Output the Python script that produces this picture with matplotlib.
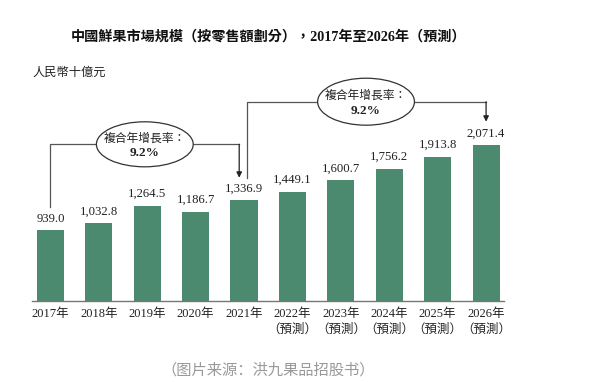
import matplotlib.pyplot as plt
from matplotlib.patches import Ellipse

years = ["2017", "2018", "2019", "2020", "2021", "2022", "2023", "2024", "2025", "2026"]
values = [939.0, 1032.8, 1264.5, 1186.7, 1336.9, 1449.1, 1600.7, 1756.2, 1913.8, 2071.4]
forecast = [False, False, False, False, False, True, True, True, True, True]
cagr_labels = ["9.2%", "9.2%"]

FONT = ["Liberation Serif", "Noto Sans CJK TC"]
plt.rcParams["font.family"] = FONT
GREEN = "#4b8a6e"

fig = plt.figure(figsize=(5.98, 3.82), dpi=100)
ax = fig.add_axes([32 / 598, 81 / 382, 472 / 598, 241.3 / 382])

x = list(range(len(years)))
ax.bar(x, values, width=0.56, color=GREEN)
ax.set_xlim(-0.38, 9.37)
ax.set_ylim(0, 3200)

for xi, v in zip(x, values):
    ax.annotate(f"{v:,.1f}", (xi, v), xytext=(0, 4), textcoords="offset points",
                ha="center", va="bottom", fontsize=9.2, color="#222222")

labels = [y + "年" + ("\n（預測）" if f else "") for y, f in zip(years, forecast)]
ax.set_xticks(x)
ax.set_xticklabels(labels, fontsize=9, color="#222222", linespacing=1.45, va="top")
ax.tick_params(axis="x", length=0, pad=5)
ax.set_yticks([])
for s in ["left", "right", "top"]:
    ax.spines[s].set_visible(False)
ax.spines["bottom"].set_color("#777777")
ax.spines["bottom"].set_linewidth(1.0)


def bracket(x0, y0, x1, y1, ytop, ex, ew, eh, label):
    lc = "#555555"
    ax.plot([x0, x0, ex - ew / 2], [y0, ytop, ytop], color=lc, lw=0.9, clip_on=False)
    ax.plot([ex + ew / 2, x1], [ytop, ytop], color=lc, lw=0.9, clip_on=False)
    ax.annotate("", xy=(x1, y1), xytext=(x1, ytop),
                arrowprops=dict(arrowstyle="-|>", color="#222222", lw=0.9,
                                mutation_scale=8, shrinkA=0, shrinkB=0),
                annotation_clip=False)
    ax.add_patch(Ellipse((ex, ytop), ew, eh, facecolor="white", edgecolor="#333333",
                         lw=0.9, clip_on=False, zorder=3))
    ax.text(ex, ytop + eh * 0.14, "複合年增長率：", ha="center", va="center",
            fontsize=8.5, family=["Noto Sans CJK TC"], zorder=4, color="#222222")
    ax.text(ex, ytop - eh * 0.2, label, ha="center", va="center",
            fontsize=9.5, fontweight="bold", zorder=4, color="#222222")


bracket(0, 1251, 3.9, 1635, 2078, 1.95, 2.0, 597, cagr_labels[0])
bracket(4.06, 1631, 9.0, 2378, 2643, 6.52, 2.0, 623, cagr_labels[1])

fig.text(268 / 598, 1 - 37 / 382, "中國鮮果市場規模（按零售額劃分），2017年至2026年（預測）",
         ha="center", va="center", fontsize=10.2, fontweight="bold", color="#111111")
fig.text(32 / 598, 1 - 73 / 382, "人民幣十億元", ha="left", va="center",
         fontsize=8.8, color="#222222")
fig.text(268 / 598, 1 - 370 / 382, "（图片来源：洪九果品招股书）", ha="center", va="center",
         fontsize=11, color="#999999", family=["Noto Sans CJK SC"])

fig.savefig("out.png", dpi=100)
